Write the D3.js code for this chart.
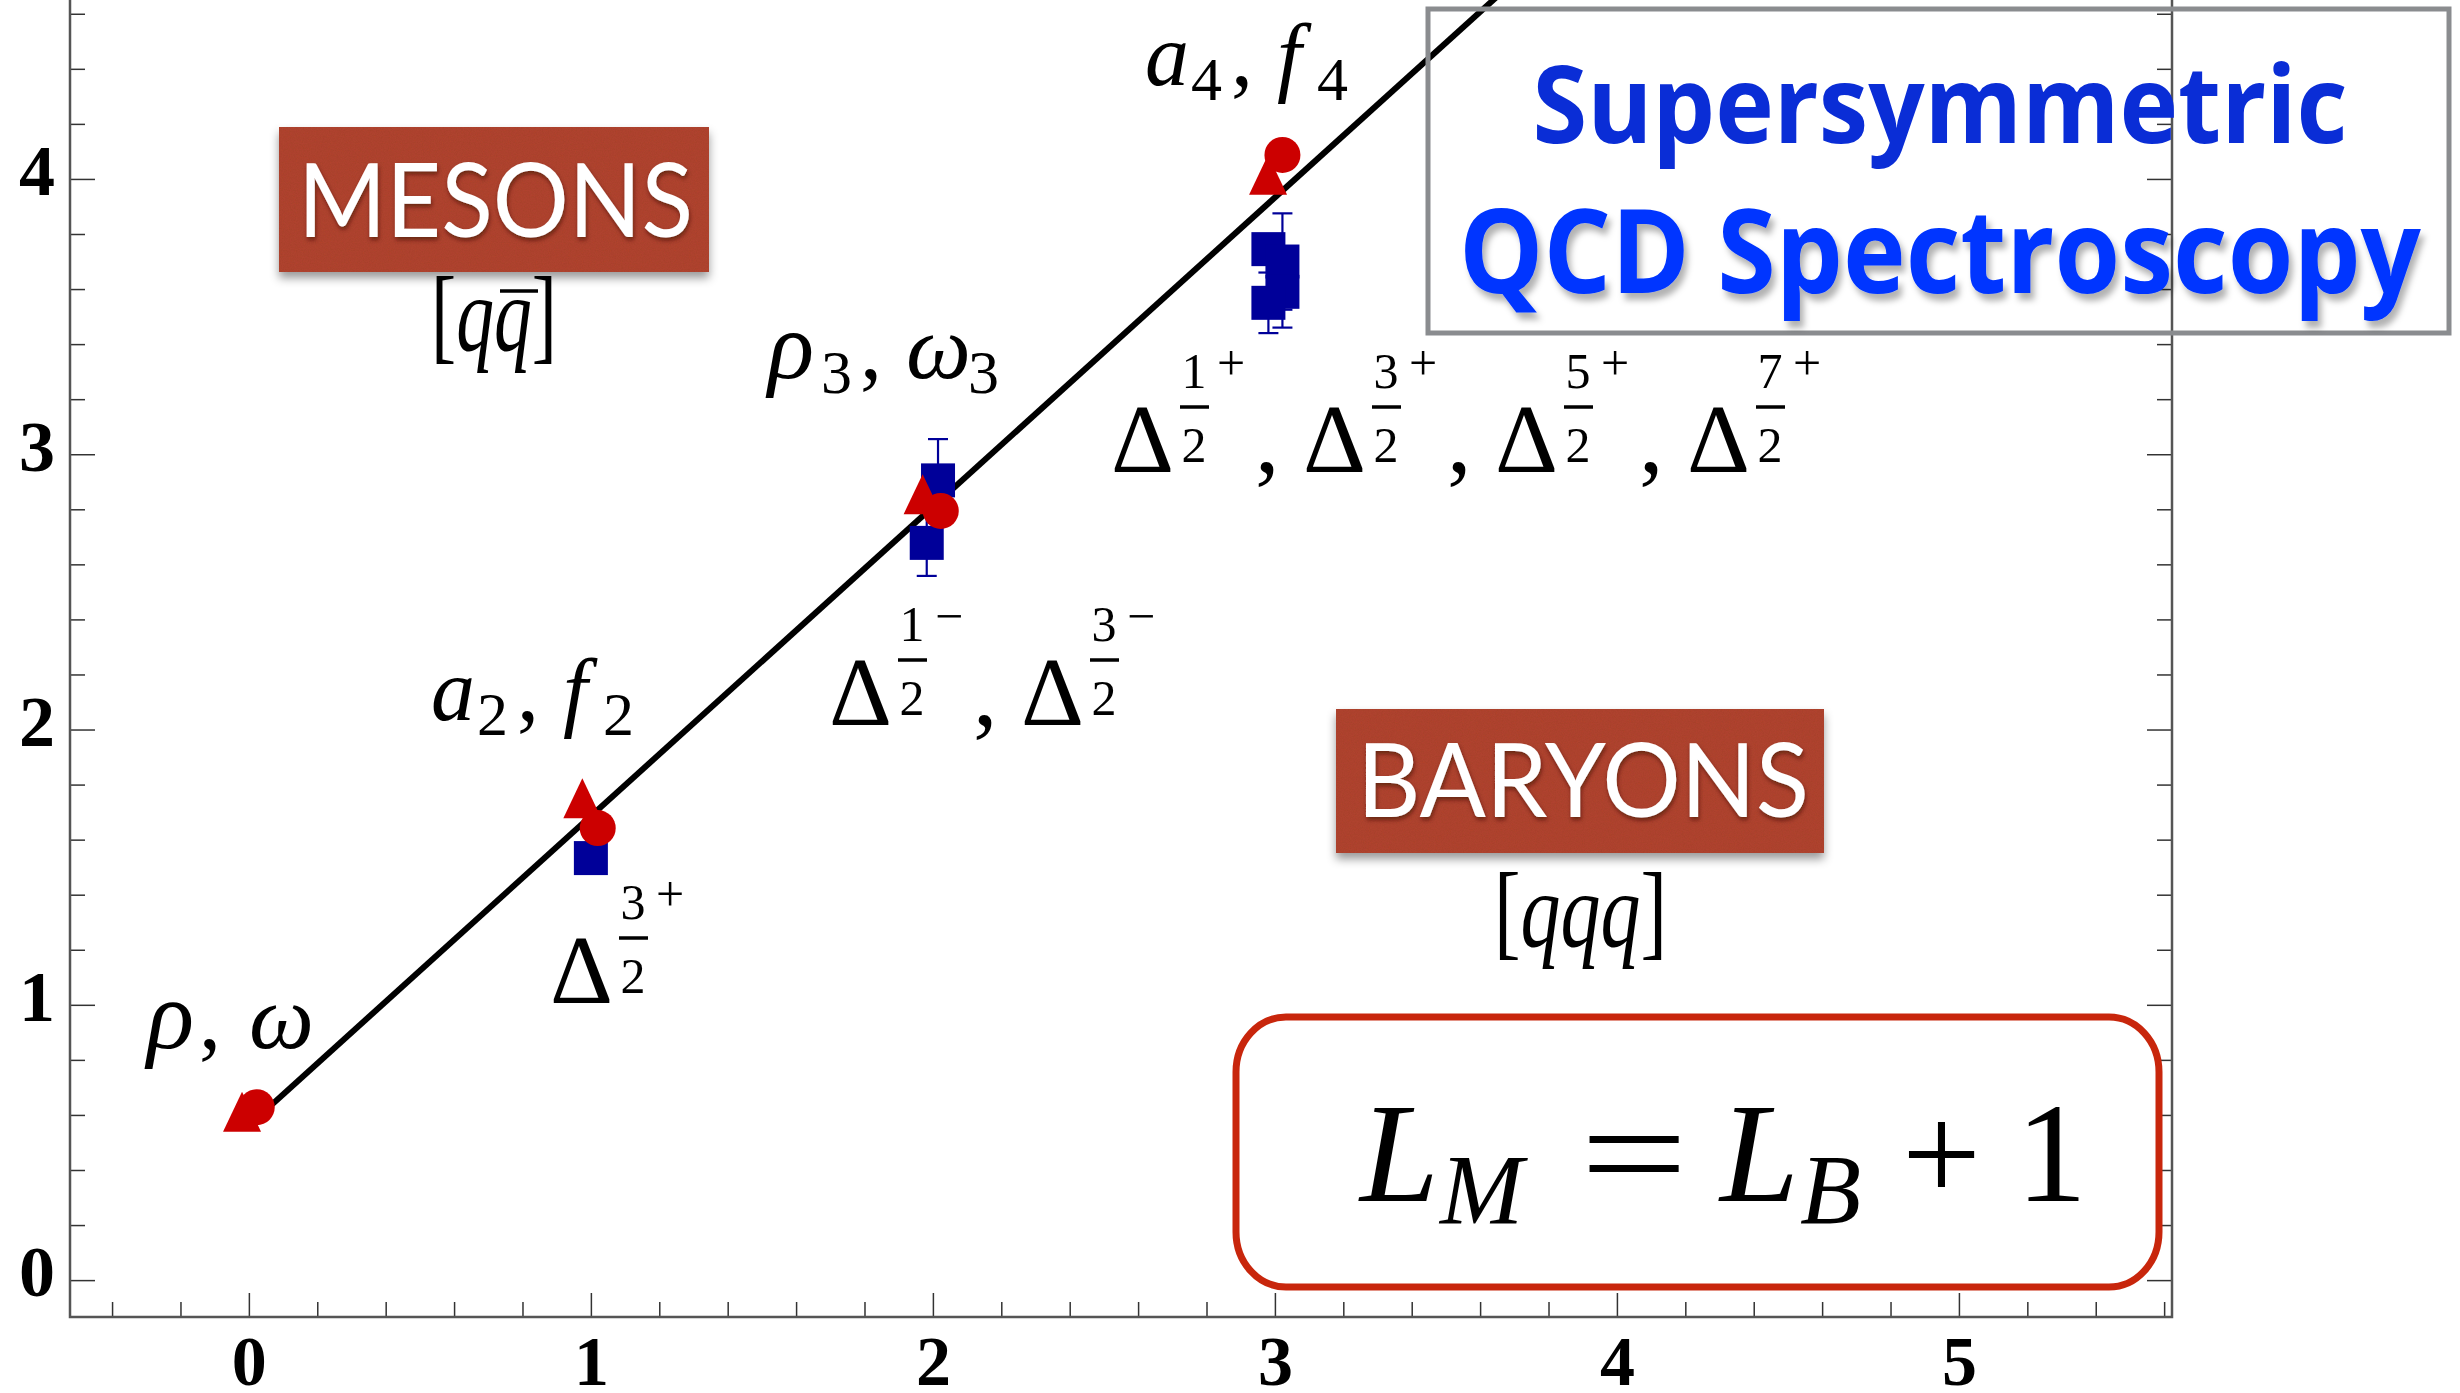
<!DOCTYPE html>
<html>
<head>
<meta charset="utf-8">
<script src="https://cdn.jsdelivr.net/npm/d3@7"></script>
<style>
  html, body { margin: 0; padding: 0; background: #fff; }
  svg { display: block; }
</style>
</head>
<body>
<svg id="chart" width="2460" height="1393"></svg>
<script>
// Orbital angular momentum L (x) against squared hadron mass M^2 in GeV^2 (y)
const mesonTriL   = [-0.02, 0.975, 1.97, 2.98];
const mesonTriM2  = [0.612, 1.75, 2.855, 4.015];
const mesonCircL  = [0.023, 1.02, 2.023, 3.022];
const mesonCircM2 = [0.628, 1.642, 2.794, 4.087];
const baryonL     = [1.0, 1.982, 2.015, 2.981, 3.022, 3.022, 2.981];
const baryonM2    = [1.533, 2.678, 2.905, 3.745, 3.70, 3.59, 3.55];
const baryonErr   = [0, 0.12, 0.15, 0.05, 0.175, 0.13, 0.11];
// Common Regge trajectory (end points)
const trajL  = [0, 4.5];
const trajM2 = [0.562, 5.618];
// Axis tick labels
const xTicks = [0, 1, 2, 3, 4, 5];
const yTicks = [0, 1, 2, 3, 4];

const SERIF = "'Liberation Serif', 'Times New Roman', serif";
const RED = "#cc0000", BLUE = "#000099";

const svg = d3.select("#chart");
const pLeft = 70, pRight = 2172, pBottom = 1317, pTop = 0;

const x = d3.scaleLinear().domain([-0.523, 5.623]).range([pLeft, pRight]);
const y = d3.scaleLinear().domain([-0.134, 4.65]).range([pBottom, pTop]);

// ---------- filters ----------
const defs = svg.append("defs");
const boxShadow = defs.append("filter").attr("id", "boxShadow")
  .attr("x", "-10%").attr("y", "-10%").attr("width", "120%").attr("height", "140%");
boxShadow.append("feDropShadow").attr("dx", 0).attr("dy", 6).attr("stdDeviation", 5)
  .attr("flood-color", "#000").attr("flood-opacity", 0.4);

const textShadow = defs.append("filter").attr("id", "textShadow")
  .attr("x", "-10%").attr("y", "-20%").attr("width", "120%").attr("height", "150%");
textShadow.append("feDropShadow").attr("dx", 1).attr("dy", 3).attr("stdDeviation", 2)
  .attr("flood-color", "#3a0d05").attr("flood-opacity", 0.6);

const titleShadow = defs.append("filter").attr("id", "titleShadow")
  .attr("x", "-5%").attr("y", "-20%").attr("width", "110%").attr("height", "160%");
titleShadow.append("feDropShadow").attr("dx", 4).attr("dy", 7).attr("stdDeviation", 3)
  .attr("flood-color", "#000").attr("flood-opacity", 0.3);

const grain = defs.append("filter").attr("id", "grain");
grain.append("feTurbulence").attr("type", "fractalNoise").attr("baseFrequency", 0.85)
  .attr("numOctaves", 2).attr("seed", 3).attr("result", "noise");
grain.append("feColorMatrix").attr("in", "noise").attr("type", "matrix")
  .attr("values", "0 0 0 0 0.25  0 0 0 0 0.05  0 0 0 0 0.02  0 0 0 0.35 0").attr("result", "tint");
grain.append("feComposite").attr("in", "tint").attr("in2", "SourceGraphic").attr("operator", "in");

defs.append("clipPath").attr("id", "plotClip").append("rect")
  .attr("x", pLeft).attr("y", pTop - 20).attr("width", pRight - pLeft).attr("height", pBottom - pTop + 20);

// ---------- frame and ticks ----------
const minorX = d3.range(-2, 29).map(i => +(i * 0.2).toFixed(1)).filter(v => !xTicks.includes(v));
const minorY = d3.range(0, 24).map(i => +(i * 0.2).toFixed(1)).filter(v => !yTicks.includes(v));

function styleAxis(g) {
  g.select(".domain").remove();
  g.selectAll(".tick line").attr("stroke", "#333").attr("stroke-width", 1.5);
}

svg.append("g").attr("transform", `translate(0,${pBottom})`)
  .call(d3.axisBottom(x).tickValues(minorX).tickSize(-15).tickSizeOuter(0).tickFormat(""))
  .call(styleAxis);
svg.append("g").attr("transform", `translate(0,${pBottom})`)
  .call(d3.axisBottom(x).tickValues(xTicks).tickSize(-24).tickSizeOuter(0).tickPadding(18).tickFormat(d3.format("d")))
  .call(styleAxis)
  .call(g => g.selectAll("text").attr("font-family", SERIF).attr("font-weight", "bold")
    .attr("font-size", 70).attr("fill", "#000"));

svg.append("g").attr("transform", `translate(${pLeft},0)`)
  .call(d3.axisLeft(y).tickValues(minorY).tickSize(-15).tickSizeOuter(0).tickFormat(""))
  .call(styleAxis);
svg.append("g").attr("transform", `translate(${pLeft},0)`)
  .call(d3.axisLeft(y).tickValues(yTicks).tickSize(-25).tickSizeOuter(0).tickPadding(15).tickFormat(d3.format("d")))
  .call(styleAxis)
  .call(g => g.selectAll("text").attr("font-family", SERIF).attr("font-weight", "bold")
    .attr("font-size", 72).attr("fill", "#000").attr("dy", "0.22em"));

svg.append("g").attr("transform", `translate(${pRight},0)`)
  .call(d3.axisLeft(y).tickValues(minorY).tickSize(15).tickSizeOuter(0).tickFormat(""))
  .call(styleAxis);
svg.append("g").attr("transform", `translate(${pRight},0)`)
  .call(d3.axisLeft(y).tickValues(yTicks).tickSize(25).tickSizeOuter(0).tickFormat(""))
  .call(styleAxis);

svg.append("path")
  .attr("d", `M${pLeft},${pTop}V${pBottom}H${pRight}V${pTop}`)
  .attr("fill", "none").attr("stroke", "#555").attr("stroke-width", 2.5);

// ---------- trajectory ----------
const plot = svg.append("g").attr("clip-path", "url(#plotClip)");
plot.append("path")
  .datum(trajL.map((l, i) => [l, trajM2[i]]))
  .attr("d", d3.line().x(d => x(d[0])).y(d => y(d[1])))
  .attr("fill", "none").attr("stroke", "#000").attr("stroke-width", 6);

// ---------- baryons: squares with error bars ----------
const baryons = baryonL.map((l, i) => ({ l, m: baryonM2[i], e: baryonErr[i] }));
const eb = plot.append("g").attr("stroke", BLUE).attr("stroke-width", 2.2);
baryons.filter(d => d.e > 0).forEach(d => {
  const cx = x(d.l);
  eb.append("line").attr("x1", cx).attr("x2", cx).attr("y1", y(d.m - d.e)).attr("y2", y(d.m + d.e));
  [d.m - d.e, d.m + d.e].forEach(v => {
    eb.append("line").attr("x1", cx - 10).attr("x2", cx + 10).attr("y1", y(v)).attr("y2", y(v));
  });
});
const SQ = 34;
plot.append("g").selectAll("rect").data(baryons).join("rect")
  .attr("x", d => x(d.l) - SQ / 2).attr("y", d => y(d.m) - SQ / 2)
  .attr("width", SQ).attr("height", SQ).attr("fill", BLUE);

// ---------- mesons: triangles and circles ----------
const upTriangle = {
  draw(ctx) { ctx.moveTo(0, -20); ctx.lineTo(19, 20); ctx.lineTo(-19, 20); ctx.closePath(); }
};
plot.append("g").selectAll("path").data(mesonTriL.map((l, i) => [l, mesonTriM2[i]])).join("path")
  .attr("transform", d => `translate(${x(d[0])},${y(d[1])})`)
  .attr("d", d3.symbol().type(upTriangle))
  .attr("fill", RED);
plot.append("g").selectAll("circle").data(mesonCircL.map((l, i) => [l, mesonCircM2[i]])).join("circle")
  .attr("cx", d => x(d[0])).attr("cy", d => y(d[1])).attr("r", 18)
  .attr("fill", RED);

// ---------- meson state names ----------
function mesonLabel(x0, b, parts) {
  const t = svg.append("text").attr("font-family", SERIF).attr("fill", "#000");
  parts.forEach(p => {
    t.append("tspan").attr("x", x0 + p.dx).attr("y", p.sub ? b + 15 : b)
      .attr("font-size", p.sub ? 62 : (p.size || 88))
      .attr("font-style", p.it ? "italic" : "normal")
      .text(p.t);
  });
}
mesonLabel(147, 1048, [{ t: "ρ", dx: 0, it: true, size: 98 }, { t: ",", dx: 52 }, { t: "ω", dx: 102, it: true, size: 92 }]);
mesonLabel(431, 720, [{ t: "a", dx: 0, it: true }, { t: "2", dx: 46, sub: true }, { t: ",", dx: 86 },
  { t: "f", dx: 132, it: true }, { t: "2", dx: 172, sub: true }]);
mesonLabel(768, 378, [{ t: "ρ", dx: 0, it: true, size: 96 }, { t: "3", dx: 53, sub: true }, { t: ",", dx: 92 },
  { t: "ω", dx: 138, it: true, size: 92 }, { t: "3", dx: 200, sub: true }]);
mesonLabel(1145, 85, [{ t: "a", dx: 0, it: true }, { t: "4", dx: 46, sub: true }, { t: ",", dx: 86 },
  { t: "f", dx: 132, it: true }, { t: "4", dx: 172, sub: true }]);

// ---------- Delta resonance names: Δ with J^P as a stacked fraction ----------
function deltaLabel(x0, b, num, sign, comma) {
  const g = svg.append("g").attr("font-family", SERIF).attr("fill", "#000");
  g.append("text").attr("x", x0).attr("y", b).attr("font-size", 98).text("Δ");
  g.append("text").attr("x", x0 + 83).attr("y", b - 84).attr("font-size", 50)
    .attr("text-anchor", "middle").text(num);
  g.append("line").attr("x1", x0 + 69).attr("x2", x0 + 98).attr("y1", b - 65).attr("y2", b - 65)
    .attr("stroke", "#000").attr("stroke-width", 3.5);
  g.append("text").attr("x", x0 + 83).attr("y", b - 10).attr("font-size", 50)
    .attr("text-anchor", "middle").text("2");
  g.append("text").attr("x", x0 + 120).attr("y", b - 92).attr("font-size", 50)
    .attr("text-anchor", "middle").text(sign);
  if (comma) g.append("text").attr("x", x0 + 144).attr("y", b).attr("font-size", 98).text(",");
}
deltaLabel(550, 1003, "3", "+", false);
deltaLabel(829, 725, "1", "−", true);
deltaLabel(1021, 725, "3", "−", false);
["1", "3", "5", "7"].forEach((n, i) => deltaLabel(1111 + 192 * i, 472, n, "+", i < 3));

// ---------- MESONS / BARYONS tags ----------
function tag(bx, by, bw, bh, label, tx, tb, tl) {
  svg.append("rect").attr("x", bx).attr("y", by).attr("width", bw).attr("height", bh)
    .attr("fill", "#b4432f").attr("filter", "url(#boxShadow)");
  svg.append("rect").attr("x", bx).attr("y", by).attr("width", bw).attr("height", bh)
    .attr("fill", "#fff").attr("filter", "url(#grain)");
  svg.append("text").attr("x", tx).attr("y", tb).attr("font-family", "Lato, 'Open Sans', sans-serif")
    .attr("font-size", 103).attr("fill", "#fff").attr("textLength", tl)
    .attr("lengthAdjust", "spacingAndGlyphs").attr("filter", "url(#textShadow)").text(label);
}
tag(279, 127, 430, 145, "MESONS", 298, 237, 395);
tag(1336, 709, 488, 144, "BARYONS", 1357, 817, 452);

// quark content
function quarks(tx, b, tl, q) {
  const t = svg.append("text").attr("x", tx).attr("y", b).attr("font-family", SERIF)
    .attr("font-size", 106).attr("textLength", tl).attr("lengthAdjust", "spacingAndGlyphs");
  t.append("tspan").text("[");
  t.append("tspan").attr("font-style", "italic").text(q);
  t.append("tspan").text("]");
}
quarks(431, 350, 126, "qq");
svg.append("line").attr("x1", 500).attr("x2", 538).attr("y1", 291).attr("y2", 291)
  .attr("stroke", "#000").attr("stroke-width", 3.5);
quarks(1494, 946, 173, "qqq");

// ---------- title box ----------
svg.append("rect").attr("x", 1428).attr("y", 9).attr("width", 1021).attr("height", 324)
  .attr("fill", "none").attr("stroke", "#8a8c8f").attr("stroke-width", 5);
svg.append("text").attr("x", 1940).attr("y", 143).attr("text-anchor", "middle")
  .attr("font-family", "'Comic Sans MS', 'Open Sans', sans-serif").attr("font-weight", 700)
  .attr("font-size", 108).attr("fill", "#0a2dd6").attr("textLength", 815)
  .attr("lengthAdjust", "spacingAndGlyphs").text("Supersymmetric");
svg.append("text").attr("x", 1940).attr("y", 293).attr("text-anchor", "middle")
  .attr("font-family", "'Comic Sans MS', 'Open Sans', sans-serif").attr("font-weight", 700)
  .attr("font-size", 116).attr("fill", "#0636ff").attr("textLength", 962)
  .attr("lengthAdjust", "spacingAndGlyphs").attr("filter", "url(#titleShadow)")
  .text("QCD Spectroscopy");

// ---------- L_M = L_B + 1 ----------
svg.append("rect").attr("x", 1236).attr("y", 1017).attr("width", 923).attr("height", 270)
  .attr("rx", 50).attr("ry", 55).attr("fill", "none").attr("stroke", "#c8260c").attr("stroke-width", 7);
const eq = svg.append("g").attr("font-family", SERIF).attr("fill", "#000");
eq.append("text").attr("x", 1360).attr("y", 1201).attr("font-size", 142).attr("font-style", "italic").text("L");
eq.append("text").attr("x", 1440).attr("y", 1223).attr("font-size", 100).attr("font-style", "italic").text("M");
eq.append("text").attr("x", 1580).attr("y", 1201).attr("font-size", 142)
  .attr("textLength", 108).attr("lengthAdjust", "spacingAndGlyphs").text("=");
eq.append("text").attr("x", 1720).attr("y", 1201).attr("font-size", 142).attr("font-style", "italic").text("L");
eq.append("text").attr("x", 1800).attr("y", 1223).attr("font-size", 100).attr("font-style", "italic").text("B");
eq.append("text").attr("x", 1902).attr("y", 1201).attr("font-size", 140).text("+");
eq.append("text").attr("x", 2016).attr("y", 1201).attr("font-size", 142).text("1");
</script>
</body>
</html>
